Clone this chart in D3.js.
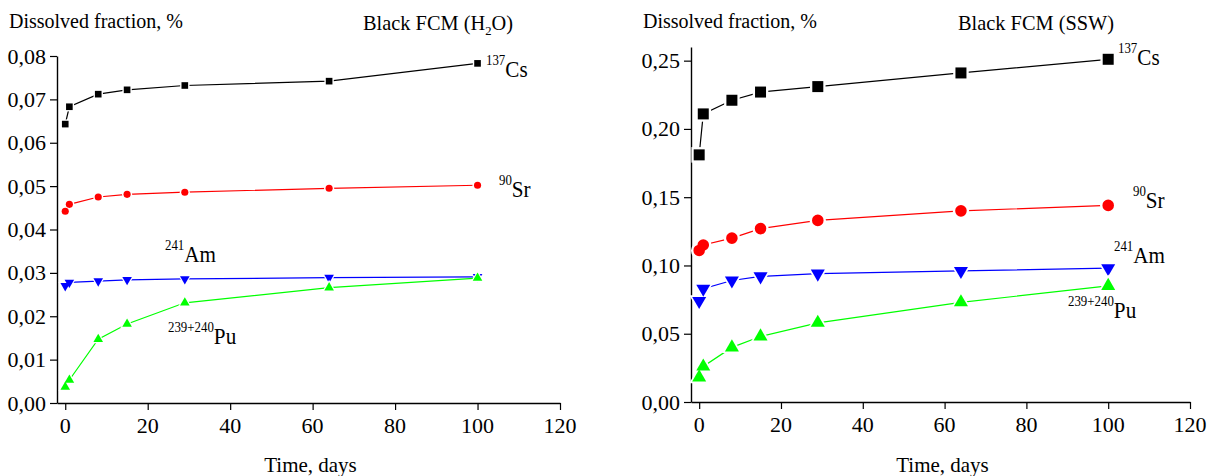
<!DOCTYPE html>
<html>
<head>
<meta charset="utf-8">
<script src="https://cdn.jsdelivr.net/npm/d3@7"></script>
<style>
body { margin: 0; background: #fff; }
svg { display: block; }
</style>
</head>
<body>
<div id="chart"></div>
<script>
// time points, days
var days = [0, 1, 8, 15, 29, 64, 100];

// Black FCM in H2O, dissolved fraction %
var csH2O = [0.0643, 0.0683, 0.0712, 0.0722, 0.0732, 0.0742, 0.0783];
var srH2O = [0.0442, 0.0458, 0.0475, 0.0481, 0.0486, 0.0495, 0.0502];
var amH2O = [0.0270, 0.0278, 0.0281, 0.0284, 0.0286, 0.0289, 0.0291];
var puH2O = [0.0037, 0.0053, 0.0147, 0.0182, 0.0231, 0.0266, 0.0288];

// Black FCM in SSW, dissolved fraction %
var csSSW = [0.181, 0.211, 0.221, 0.227, 0.231, 0.241, 0.251];
var srSSW = [0.111, 0.115, 0.120, 0.127, 0.133, 0.140, 0.144];
var amSSW = [0.074, 0.083, 0.089, 0.092, 0.094, 0.096, 0.098];
var puSSW = [0.018, 0.026, 0.040, 0.048, 0.058, 0.073, 0.085];

var xTicks = [0, 20, 40, 60, 80, 100, 120];
var xMinor = [10, 30, 50, 70, 90, 110];
var yTicksH2O = [0, 0.01, 0.02, 0.03, 0.04, 0.05, 0.06, 0.07, 0.08];
var yMinorH2O = [0.005, 0.015, 0.025, 0.035, 0.045, 0.055, 0.065, 0.075];
var yTicksSSW = [0, 0.05, 0.10, 0.15, 0.20, 0.25];
var yMinorSSW = [0.025, 0.075, 0.125, 0.175, 0.225];

var SERIF = '"Liberation Serif", "Times New Roman", serif';

var svg = d3.select("#chart").append("svg")
    .attr("width", 1224)
    .attr("height", 476);

var fmt = d3.formatLocale({decimal: ",", thousands: " ", grouping: [3], currency: ["", ""]}).format(".2f");

function txt(x, y, size, anchor, sq) {
    return svg.append("text")
        .attr("transform", "translate(" + x + "," + y + ") scale(" + (sq || 1) + ",1)")
        .attr("text-anchor", anchor || "start")
        .attr("font-family", SERIF)
        .attr("font-size", size);
}

// isotope label: small mass number + element symbol
function isoLabel(x, y, mass, el) {
    var t = txt(x, y, 23, "start", 0.92);
    t.append("tspan").attr("font-size", 14).attr("dy", -12).text(mass);
    t.append("tspan").attr("dy", 12).text(el);
}

function drawPanel(p) {
    var x = d3.scaleLinear().domain([-2, 120]).range([p.left, p.right]);
    var y = d3.scaleLinear().domain([0, p.yMax]).range([p.bottom, p.top]);

    var gx = svg.append("g").attr("transform", "translate(0," + p.bottom + ")");
    gx.call(d3.axisBottom(x).tickValues(xMinor).tickSize(4).tickFormat(""));
    gx.call(d3.axisBottom(x).tickValues(xTicks).tickSize(7).tickSizeOuter(0).tickFormat(""));

    var gy = svg.append("g").attr("transform", "translate(" + p.left + ",0)");
    gy.call(d3.axisLeft(y).tickValues(p.yMinor).tickSize(4).tickFormat(""));
    gy.call(d3.axisLeft(y).tickValues(p.yTicks).tickSize(7).tickSizeOuter(0).tickFormat(""));

    svg.selectAll(".domain").attr("stroke-width", 1.4);
    svg.selectAll(".tick line").attr("stroke-width", 1.2);

    // tick labels drawn by hand so they keep the serif face
    xTicks.forEach(function(v) {
        txt(x(v), p.bottom + 30, 22, "middle").text(v);
    });
    p.yTicks.forEach(function(v) {
        txt(p.left - 11, y(v) + 7.5, 22, "end").text(fmt(v));
    });

    p.series.forEach(function(s) {
        var pts = days.map(function(d, i) { return [d, s.vals[i]]; });
        svg.append("path")
            .datum(pts)
            .attr("fill", "none")
            .attr("stroke", s.color)
            .attr("stroke-width", 1.2)
            .attr("d", d3.line().x(function(d) { return x(d[0]); }).y(function(d) { return y(d[1]); }));

        var sym = d3.symbol().type(s.shape).size(p.mark[s.key]);
        var halo = d3.symbol().type(s.shape).size(p.mark[s.key] * 2);
        var g = svg.append("g");
        var rot = s.down ? " rotate(180)" : "";
        g.selectAll(".halo").data(pts).enter().append("path")
            .attr("d", halo)
            .attr("fill", "#fff")
            .attr("transform", function(d) { return "translate(" + x(d[0]) + "," + y(d[1]) + ")" + rot; });
        g.selectAll(".mk").data(pts).enter().append("path")
            .attr("d", sym)
            .attr("fill", s.color)
            .attr("transform", function(d) { return "translate(" + x(d[0]) + "," + y(d[1]) + ")" + rot; });

        isoLabel(s.lx, s.ly, s.mass, s.el);
    });

    txt(p.ytX, 28, 20).text("Dissolved fraction, %");
    var t = txt(p.titleX, 30, 21, "start", 0.97);
    if (p.sub) {
        t.append("tspan").text("Black FCM (H");
        t.append("tspan").attr("font-size", 13).attr("dy", 5).text("2");
        t.append("tspan").attr("dy", -5).text("O)");
    } else {
        t.text("Black FCM (SSW)");
    }
    txt((p.left + p.right) / 2 + 2, 472, 21, "middle").text("Time, days");
}

drawPanel({
    left: 57, right: 560, top: 56, bottom: 403, yMax: 0.08,
    yTicks: yTicksH2O, yMinor: yMinorH2O,
    ytX: 9, titleX: 363, sub: true,
    mark: {cs: 44, sr: 40, am: 40, pu: 40},
    series: [
        {key: "cs", vals: csH2O, color: "#000000", shape: d3.symbolSquare, mass: "137", el: "Cs", lx: 486, ly: 77},
        {key: "sr", vals: srH2O, color: "#ff0000", shape: d3.symbolCircle, mass: "90", el: "Sr", lx: 499, ly: 197},
        {key: "am", vals: amH2O, color: "#0000ff", shape: d3.symbolTriangle, down: true, mass: "241", el: "Am", lx: 165, ly: 262},
        {key: "pu", vals: puH2O, color: "#00ff00", shape: d3.symbolTriangle, mass: "239+240", el: "Pu", lx: 168, ly: 344}
    ]
});

drawPanel({
    left: 691, right: 1190, top: 47, bottom: 402, yMax: 0.26,
    yTicks: yTicksSSW, yMinor: yMinorSSW,
    ytX: 643, titleX: 958, sub: false,
    mark: {cs: 121, sr: 105, am: 85, pu: 85},
    series: [
        {key: "cs", vals: csSSW, color: "#000000", shape: d3.symbolSquare, mass: "137", el: "Cs", lx: 1118, ly: 65},
        {key: "sr", vals: srSSW, color: "#ff0000", shape: d3.symbolCircle, mass: "90", el: "Sr", lx: 1133, ly: 208},
        {key: "am", vals: amSSW, color: "#0000ff", shape: d3.symbolTriangle, down: true, mass: "241", el: "Am", lx: 1114, ly: 263},
        {key: "pu", vals: puSSW, color: "#00ff00", shape: d3.symbolTriangle, mass: "239+240", el: "Pu", lx: 1068, ly: 318}
    ]
});
</script>
</body>
</html>
